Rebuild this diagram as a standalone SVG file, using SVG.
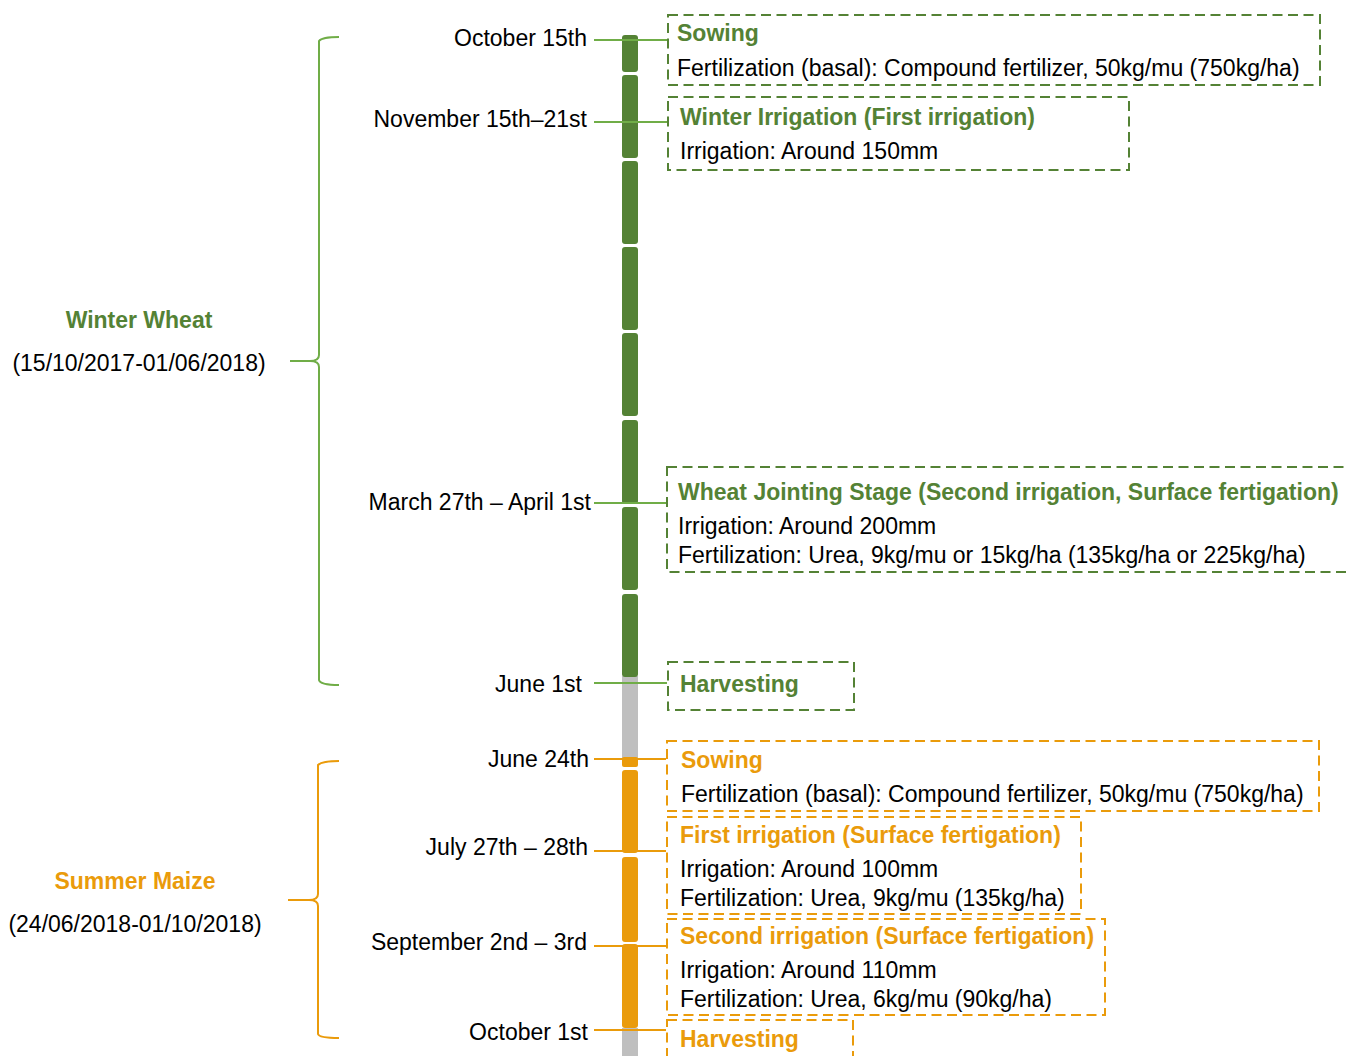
<svg xmlns="http://www.w3.org/2000/svg" width="1347" height="1056" viewBox="0 0 1347 1056">
<style>
text{font-family:"Liberation Sans",Arial,sans-serif;font-size:23px;fill:#000}
.lbl{text-anchor:end}
.hg{font-weight:bold;fill:#548235}
.ho{font-weight:bold;fill:#EA9B0B}
.bg{fill:none;stroke:#548235;stroke-width:2;stroke-dasharray:10 5.5}
.bo{fill:none;stroke:#EA9B0B;stroke-width:2;stroke-dasharray:10 5.5}
.sg{fill:#548235}
.so{fill:#EA9B0B}
.gr{fill:#BFBFBF}
.cg{stroke:#70AD47;stroke-width:2;fill:none}
.co{stroke:#EA9B0B;stroke-width:2;fill:none}
</style>
<rect width="1347" height="1056" fill="#fff"/>
<g id="timeline">
<rect class="gr" x="622" y="676" width="16" height="84"/>
<rect class="gr" x="622" y="1028" width="16" height="28"/>
<rect class="sg" x="622" y="35" width="16" height="37" rx="3"/>
<rect class="sg" x="622" y="75" width="16" height="83" rx="3"/>
<rect class="sg" x="622" y="161" width="16" height="83" rx="3"/>
<rect class="sg" x="622" y="247" width="16" height="83" rx="3"/>
<rect class="sg" x="622" y="333" width="16" height="83" rx="3"/>
<rect class="sg" x="622" y="420" width="16" height="84" rx="3"/>
<rect class="sg" x="622" y="507" width="16" height="83" rx="3"/>
<rect class="sg" x="622" y="594" width="16" height="83" rx="3"/>
<rect class="so" x="622" y="757" width="16" height="10" rx="2"/>
<rect class="so" x="622" y="770" width="16" height="83" rx="3"/>
<rect class="so" x="622" y="857" width="16" height="85" rx="3"/>
<rect class="so" x="622" y="944" width="16" height="84" rx="3"/>
</g>
<g id="connectors">
<line class="cg" x1="594" y1="40" x2="667" y2="40"/>
<line class="cg" x1="594" y1="122" x2="667" y2="122"/>
<line class="cg" x1="594" y1="503" x2="666" y2="503"/>
<line class="cg" x1="594" y1="683" x2="667" y2="683"/>
<line class="co" x1="594" y1="759" x2="666" y2="759"/>
<line class="co" x1="594" y1="851" x2="666" y2="851"/>
<line class="co" x1="594" y1="946" x2="666" y2="946"/>
<line class="co" x1="594" y1="1030" x2="666" y2="1030"/>
</g>
<g id="bracket-wheat">
<path class="cg" d="M339,37 Q322,37 319,41 L319,355 Q319,361 310,361 L290,361 M310,361 Q319,361 319,367 L319,680 Q320,685 339,685"/>
<text class="hg" x="139" y="328" text-anchor="middle">Winter Wheat</text>
<text x="139" y="371" text-anchor="middle">(15/10/2017-01/06/2018)</text>
</g>
<g id="bracket-maize">
<path class="co" d="M339,761 Q322,761 318,765 L318,894 Q318,900 309,900 L288,900 M309,900 Q318,900 318,906 L318,1034 Q319,1038 339,1038"/>
<text class="ho" x="135" y="889" text-anchor="middle">Summer Maize</text>
<text x="135" y="932" text-anchor="middle">(24/06/2018-01/10/2018)</text>
</g>
<g id="labels">
<text class="lbl" x="587" y="46">October 15th</text>
<text class="lbl" x="587" y="127">November 15th–21st</text>
<text class="lbl" x="591" y="510">March 27th – April 1st</text>
<text class="lbl" x="582" y="692">June 1st</text>
<text class="lbl" x="589" y="767">June 24th</text>
<text class="lbl" x="588" y="855">July 27th – 28th</text>
<text class="lbl" x="587" y="950">September 2nd – 3rd</text>
<text class="lbl" x="588" y="1040">October 1st</text>
</g>
<g id="w-sowing">
<rect class="bg" x="668" y="15" width="652" height="70"/>
<text class="hg" x="677" y="41">Sowing</text>
<text x="677" y="76">Fertilization (basal): Compound fertilizer, 50kg/mu (750kg/ha)</text>
</g>
<g id="w-irrigation1">
<rect class="bg" x="668" y="97" width="461" height="73"/>
<text class="hg" x="680" y="125">Winter Irrigation (First irrigation)</text>
<text x="680" y="159">Irrigation: Around 150mm</text>
</g>
<g id="w-jointing">
<rect class="bg" x="667" y="467" width="690" height="105"/>
<text class="hg" x="678" y="500">Wheat Jointing Stage (Second irrigation, Surface fertigation)</text>
<text x="678" y="534">Irrigation: Around 200mm</text>
<text x="678" y="563">Fertilization: Urea, 9kg/mu or 15kg/ha (135kg/ha or 225kg/ha)</text>
</g>
<g id="w-harvest">
<rect class="bg" x="668" y="662" width="186" height="48"/>
<text class="hg" x="680" y="692">Harvesting</text>
</g>
<g id="m-sowing">
<rect class="bo" x="667" y="741" width="652" height="70"/>
<text class="ho" x="681" y="768">Sowing</text>
<text x="681" y="802">Fertilization (basal): Compound fertilizer, 50kg/mu (750kg/ha)</text>
</g>
<g id="m-irrigation1">
<rect class="bo" x="667" y="817" width="414" height="97"/>
<text class="ho" x="680" y="843">First irrigation (Surface fertigation)</text>
<text x="680" y="877">Irrigation: Around 100mm</text>
<text x="680" y="906">Fertilization: Urea, 9kg/mu (135kg/ha)</text>
</g>
<g id="m-irrigation2">
<rect class="bo" x="667" y="919" width="438" height="96"/>
<text class="ho" x="680" y="944">Second irrigation (Surface fertigation)</text>
<text x="680" y="978">Irrigation: Around 110mm</text>
<text x="680" y="1007">Fertilization: Urea, 6kg/mu (90kg/ha)</text>
</g>
<g id="m-harvest">
<rect class="bo" x="667" y="1020" width="186" height="50"/>
<text class="ho" x="680" y="1047">Harvesting</text>
</g>
</svg>
